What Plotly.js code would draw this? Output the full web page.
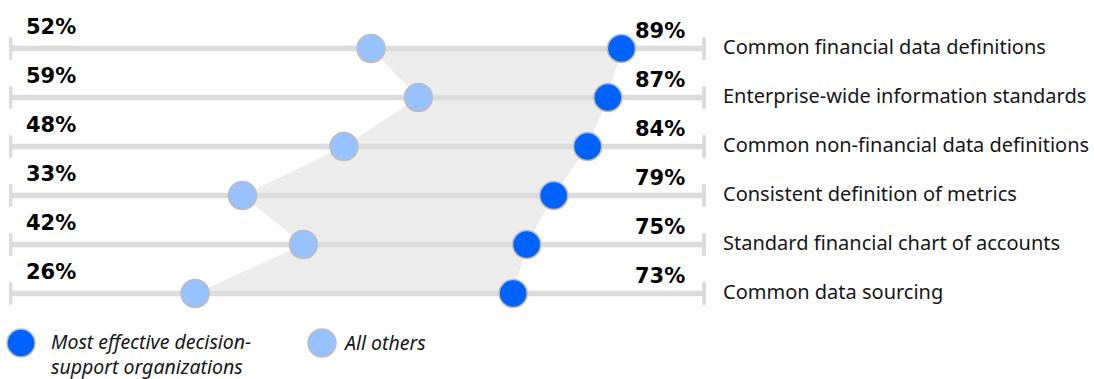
<!DOCTYPE html>
<html><head><meta charset="utf-8">
<script src="https://cdn.plot.ly/plotly-3.0.1.min.js"></script>
<style>html,body{margin:0;padding:0;background:#fff}#chart{width:1094px;height:379px}</style>
</head><body><div id="chart"></div>
<script>
const categories = ["Common financial data definitions","Enterprise-wide information standards","Common non-financial data definitions","Consistent definition of metrics","Standard financial chart of accounts","Common data sourcing"];
const mostEffective = [89, 87, 84, 79, 75, 73];
const allOthers = [52, 59, 48, 33, 42, 26];
const seriesNames = ["Most effective decision-<br>support organizations", "All others"];

const BLUE = "#0062ff", LIGHT = "#97c1ff", TRACK = "#dcdcdc", FILL = "#ececec";
const FONT = "Noto Sans";
const BOLDFONT = "DejaVu Sans";
const rows = categories.map((c,i)=>i);
const TL = -1.3, TR = 101.2;

// fill polygon between series
const polyX = allOthers.concat(mostEffective.slice().reverse());
const polyY = rows.concat(rows.slice().reverse());

const trackX = [], trackY = [], capX = [], capY = [];
rows.forEach(r=>{
  trackX.push(TL, TR, null); trackY.push(r, r, null);
  capX.push(TL, TL, null, TR, TR, null); capY.push(r-0.23, r+0.23, null, r-0.23, r+0.23, null);
});

const traces = [
  {x: polyX, y: polyY, type:"scatter", mode:"lines", fill:"toself", fillcolor:FILL, line:{width:0, color:FILL}, hoverinfo:"skip", showlegend:false},
  {x: trackX, y: trackY, type:"scatter", mode:"lines", line:{color:TRACK, width:5.5}, hoverinfo:"skip", showlegend:false},
  {x: capX, y: capY, type:"scatter", mode:"lines", line:{color:TRACK, width:4}, hoverinfo:"skip", showlegend:false},
  {x: allOthers, y: rows, type:"scatter", mode:"markers", name:seriesNames[1], marker:{size:28, color:LIGHT, line:{color:"#bdbdbd", width:1.5}}, showlegend:false},
  {x: mostEffective, y: rows, type:"scatter", mode:"markers", name:seriesNames[0], marker:{size:28, color:BLUE, line:{color:"#bdbdbd", width:1.5}}, showlegend:false}
];

const annotations = [];
rows.forEach(r=>{
  annotations.push({xref:"paper", x:0, xshift:15, xanchor:"left", yref:"y", y:r, yshift:22, yanchor:"middle", text:"<b>"+allOthers[r]+"%</b>", showarrow:false, font:{family:BOLDFONT, size:21, color:"#000"}});
  annotations.push({xref:"paper", x:(687-9)/697, xanchor:"right", yref:"y", y:r, yshift:18, yanchor:"middle", text:"<b>"+mostEffective[r]+"%</b>", showarrow:false, font:{family:BOLDFONT, size:21, color:"#000"}});
  annotations.push({xref:"paper", x:(721-9)/697, xanchor:"left", yref:"y", y:r, yshift:2, yanchor:"middle", text:categories[r], showarrow:false, font:{family:FONT, size:20, color:"#161616"}});
});
// legend
function px(x){return (x-9)/697;}
function py(y){return 1-(y-24)/294;}
annotations.push({xref:"paper", yref:"paper", x:px(50), y:py(354), xanchor:"left", yanchor:"middle", align:"left", borderpad:0, text:"<i>"+seriesNames[0]+"</i>", showarrow:false, font:{family:FONT, size:19.5, color:"#161616"}});
annotations.push({xref:"paper", yref:"paper", x:px(341), y:py(342), xanchor:"left", yanchor:"middle", text:"<i>"+seriesNames[1]+"</i>", showarrow:false, font:{family:FONT, size:19.5, color:"#161616"}});

const shapes = [
  {type:"circle", xref:"paper", yref:"paper", xsizemode:"pixel", ysizemode:"pixel", xanchor:px(21), yanchor:py(343), x0:-14, x1:14, y0:-14, y1:14, fillcolor:BLUE, line:{color:"#bdbdbd", width:1.5}},
  {type:"circle", xref:"paper", yref:"paper", xsizemode:"pixel", ysizemode:"pixel", xanchor:px(322), yanchor:py(343), x0:-14, x1:14, y0:-14, y1:14, fillcolor:LIGHT, line:{color:"#bdbdbd", width:1.5}}
];

const layout = {
  width:1094, height:379,
  margin:{l:9, r:388, t:24, b:61, pad:0},
  paper_bgcolor:"#fff", plot_bgcolor:"#fff",
  xaxis:{range:[-1.5,101.5], visible:false, fixedrange:true},
  yaxis:{range:[5.5,-0.5], visible:false, fixedrange:true},
  showlegend:false,
  annotations, shapes,
  font:{family:FONT}
};
Plotly.newPlot("chart", traces, layout, {staticPlot:true, displayModeBar:false});
</script></body></html>
